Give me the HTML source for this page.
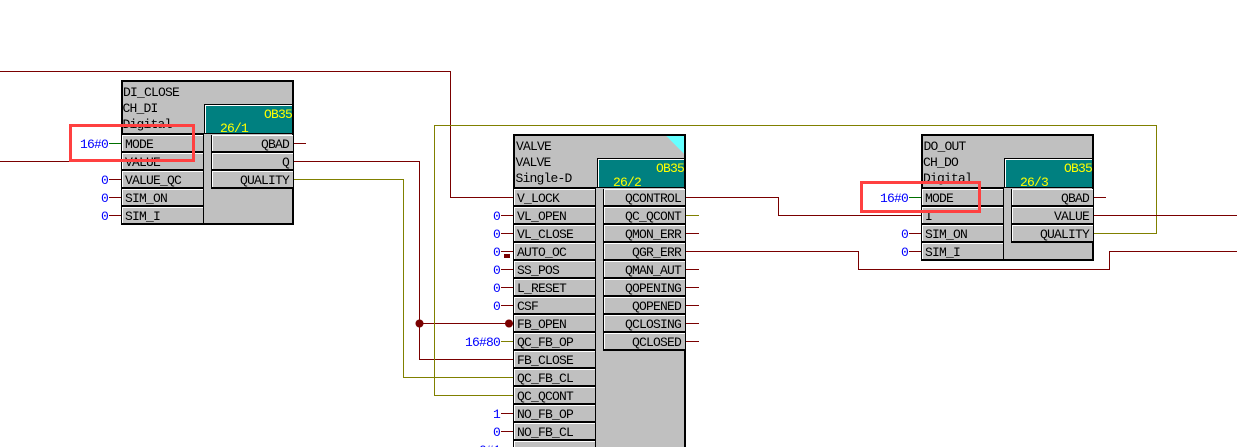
<!DOCTYPE html>
<html><head><meta charset="utf-8"><style>
html,body{margin:0;padding:0;background:#fff;width:1237px;height:447px;overflow:hidden}
svg{display:block}
text{font-family:"Liberation Mono",monospace;font-size:13px;letter-spacing:-.8px;fill:#000}
.c{fill:#0000ff;text-anchor:end}
.r{text-anchor:end}
.y{fill:#ffff00}
.w{fill:none;stroke:#7a0000;stroke-width:1}
.o{fill:none;stroke:#808000;stroke-width:1}
.g{fill:none;stroke:#007000;stroke-width:1}
.b{fill:#c0c0c0;stroke:#000;stroke-width:2}
</style></head><body>
<svg width="1237" height="447" viewBox="0 0 1237 447" xmlns="http://www.w3.org/2000/svg" shape-rendering="crispEdges">
<defs>
<g id="p"><rect x="0" y="0" width="81" height="18" fill="#c0c0c0"/><path d="M0.5 16V.5H81" fill="none" stroke="#fff"/><path d="M0 17H82" fill="none" stroke="#000" stroke-width="2"/><path d="M81.5 0V18" fill="none" stroke="#000"/></g>
<g id="q"><rect x="0" y="0" width="81" height="18" fill="#c0c0c0"/><path d="M0.5 16V.5H81" fill="none" stroke="#fff"/><path d="M-1 17H81" fill="none" stroke="#000" stroke-width="2"/><path d="M-.5 0V18" fill="none" stroke="#000"/></g>
</defs>
<rect width="1237" height="447" fill="#fff"/>

<!-- wires -->
<path class="w" d="M0 71.5H450.5V197.5H514"/>
<path class="w" d="M0 161.5H122"/>
<path class="w" d="M293 161.5H419.5V359.5H514M419.5 323.5H514"/>
<path class="o" d="M293 179.5H403.5V377.5H514"/>
<path class="o" d="M1093 233.5H1156.5V125.5H434.5V395.5H514"/>
<path class="w" d="M685 197.5H778.5V215.5H922"/>
<path class="w" d="M1093 215.5H1237"/>
<path class="w" d="M685 251.5H858.5V269.5H1109.5V251.5H1237"/>

<!-- stubs -->
<path class="g" d="M109 143.5H122M909 197.5H922"/>
<path class="w" d="M109 179.5H122M109 197.5H122M109 215.5H122M293 143.5H306M909 233.5H922M909 251.5H922M1093 197.5H1106"/>
<path class="w" d="M501 215.5H514M501 233.5H514M501 251.5H514M501 269.5H514M501 287.5H514M501 305.5H514M501 413.5H514M501 431.5H514"/>
<path class="o" d="M501 341.5H514M685 215.5H699"/>
<path class="w" d="M685 233.5H699M685 269.5H699M685 287.5H699M685 305.5H699M685 323.5H699M685 341.5H699"/>

<!-- block 1 -->
<rect class="b" x="122" y="81" width="171" height="143"/>
<path d="M204.5 134V104.5H293" fill="none" stroke="#000"/>
<rect x="205" y="105" width="87" height="29" fill="#008080"/>
<path d="M205.5 133V105.5H292" fill="none" stroke="#fff"/>
<path d="M122 133.5H293" stroke="#000" stroke-width="1"/>
<path d="M203.5 134V224" stroke="#000"/>
<use href="#p" x="122" y="135"/><use href="#p" x="122" y="153"/><use href="#p" x="122" y="171"/><use href="#p" x="122" y="189"/><use href="#p" x="122" y="207"/>
<use href="#q" x="212" y="135"/><use href="#q" x="212" y="153"/><use href="#q" x="212" y="171"/>
<path d="M122 134.5H204M122 224H293" stroke="#000"/>
<text x="123" y="96">DI_CLOSE</text><text x="122.5" y="112">CH_DI</text><text x="122.5" y="128">Digital</text>
<text class="y r" x="292" y="118">OB35</text><text class="y" x="220" y="132">26/1</text>
<text x="125" y="148">MODE</text><text x="125" y="166">VALUE</text><text x="125" y="184">VALUE_QC</text><text x="125" y="202">SIM_ON</text><text x="125" y="220">SIM_I</text>
<text class="r" x="289" y="148">QBAD</text><text class="r" x="289" y="166">Q</text><text class="r" x="289" y="184">QUALITY</text>
<text class="c" x="108" y="148">16#0</text><text class="c" x="108" y="184">0</text><text class="c" x="108" y="202">0</text><text class="c" x="108" y="220">0</text>

<!-- block 2 -->
<rect class="b" x="514" y="135" width="171" height="330"/>
<polygon points="666,136 684,136 684,154" fill="#66ffff"/>
<path d="M597.5 188V158.5H685" fill="none" stroke="#000"/>
<rect x="598" y="159" width="86" height="29" fill="#008080"/>
<path d="M598.5 187V159.5H684" fill="none" stroke="#fff"/>
<path d="M514 187.5H685" stroke="#000"/>
<path d="M595.5 188V447" stroke="#000"/>
<use href="#p" x="514" y="189"/><use href="#p" x="514" y="207"/><use href="#p" x="514" y="225"/><use href="#p" x="514" y="243"/><use href="#p" x="514" y="261"/><use href="#p" x="514" y="279"/><use href="#p" x="514" y="297"/><use href="#p" x="514" y="315"/><use href="#p" x="514" y="333"/><use href="#p" x="514" y="351"/><use href="#p" x="514" y="369"/><use href="#p" x="514" y="387"/><use href="#p" x="514" y="405"/><use href="#p" x="514" y="423"/><use href="#p" x="514" y="441"/>
<use href="#q" x="604" y="189"/><use href="#q" x="604" y="207"/><use href="#q" x="604" y="225"/><use href="#q" x="604" y="243"/><use href="#q" x="604" y="261"/><use href="#q" x="604" y="279"/><use href="#q" x="604" y="297"/><use href="#q" x="604" y="315"/><use href="#q" x="604" y="333"/>
<path d="M514 188.5H596" stroke="#000"/>
<text x="516" y="150">VALVE</text><text x="515.5" y="166">VALVE</text><text x="515.5" y="182">Single-D</text>
<text class="y r" x="684" y="172">OB35</text><text class="y" x="613" y="186">26/2</text>
<text x="517" y="202">V_LOCK</text><text x="517" y="220">VL_OPEN</text><text x="517" y="238">VL_CLOSE</text><text x="517" y="256">AUTO_OC</text><text x="517" y="274">SS_POS</text><text x="517" y="292">L_RESET</text><text x="517" y="310">CSF</text><text x="517" y="328">FB_OPEN</text><text x="517" y="346">QC_FB_OP</text><text x="517" y="364">FB_CLOSE</text><text x="517" y="382">QC_FB_CL</text><text x="517" y="400">QC_QCONT</text><text x="517" y="418">NO_FB_OP</text><text x="517" y="436">NO_FB_CL</text>
<text class="r" x="681" y="202">QCONTROL</text><text class="r" x="681" y="220">QC_QCONT</text><text class="r" x="681" y="238">QMON_ERR</text><text class="r" x="681" y="256">QGR_ERR</text><text class="r" x="681" y="274">QMAN_AUT</text><text class="r" x="681" y="292">QOPENING</text><text class="r" x="681" y="310">QOPENED</text><text class="r" x="681" y="328">QCLOSING</text><text class="r" x="681" y="346">QCLOSED</text>
<text class="c" x="500" y="220">0</text><text class="c" x="500" y="238">0</text><text class="c" x="500" y="256">0</text><text class="c" x="500" y="274">0</text><text class="c" x="500" y="292">0</text><text class="c" x="500" y="310">0</text><text class="c" x="500" y="346">16#80</text><text class="c" x="500" y="418">1</text><text class="c" x="500" y="436">0</text><text class="c" x="500" y="454">0#1</text>
<rect x="504" y="254" width="6" height="4" fill="#7a0000"/>
<circle cx="419.5" cy="323.5" r="4" fill="#7a0000" shape-rendering="auto"/>
<circle cx="509" cy="323.5" r="4" fill="#7a0000" shape-rendering="auto"/>

<!-- block 3 -->
<rect class="b" x="922" y="135" width="171" height="125"/>
<path d="M1004.5 188V158.5H1093" fill="none" stroke="#000"/>
<rect x="1005" y="159" width="87" height="29" fill="#008080"/>
<path d="M1005.5 187V159.5H1092" fill="none" stroke="#fff"/>
<path d="M922 187.5H1093" stroke="#000"/>
<path d="M1003.5 188V260" stroke="#000"/>
<use href="#p" x="922" y="189"/><use href="#p" x="922" y="207"/><use href="#p" x="922" y="225"/><use href="#p" x="922" y="243"/>
<use href="#q" x="1012" y="189"/><use href="#q" x="1012" y="207"/><use href="#q" x="1012" y="225"/>
<path d="M922 188.5H1004" stroke="#000"/>
<text x="923.5" y="150">DO_OUT</text><text x="923" y="166">CH_DO</text><text x="923" y="182">Digital</text>
<text class="y r" x="1092" y="172">OB35</text><text class="y" x="1020" y="186">26/3</text>
<text x="925" y="202">MODE</text><text x="925" y="220">I</text><text x="925" y="238">SIM_ON</text><text x="925" y="256">SIM_I</text>
<text class="r" x="1089" y="202">QBAD</text><text class="r" x="1089" y="220">VALUE</text><text class="r" x="1089" y="238">QUALITY</text>
<text class="c" x="908" y="202">16#0</text><text class="c" x="908" y="238">0</text><text class="c" x="908" y="256">0</text>

<!-- annotations -->
<rect x="70.5" y="125.5" width="123" height="35" fill="none" stroke="#ff4040" stroke-width="3"/>
<rect x="861.5" y="182.5" width="118" height="29" fill="none" stroke="#ff4040" stroke-width="3"/>
</svg>
</body></html>
